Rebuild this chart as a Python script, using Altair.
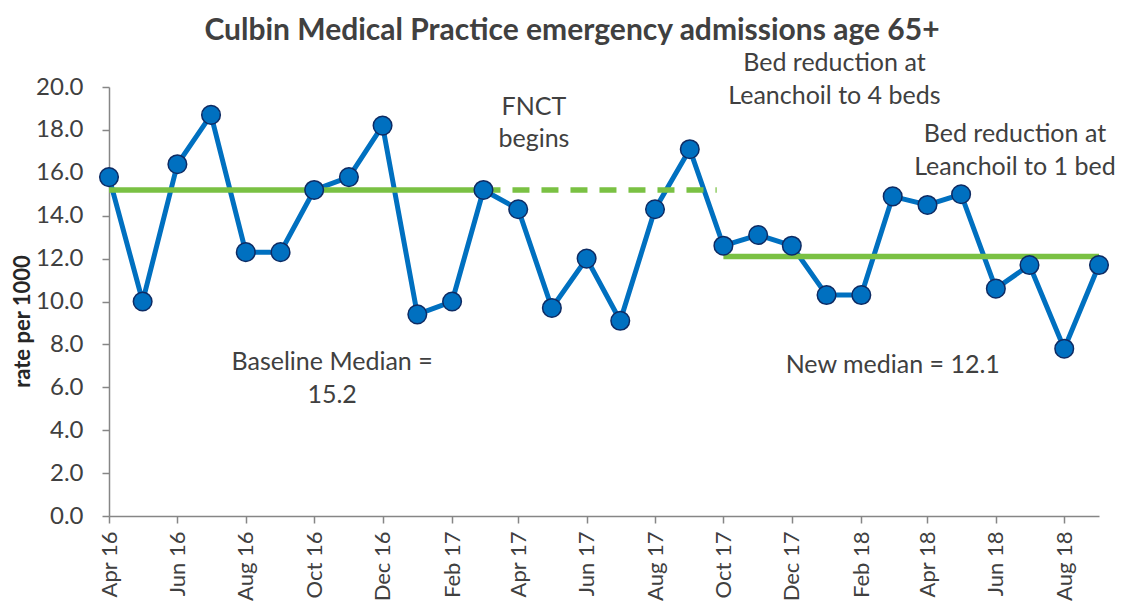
import altair as alt
import pandas as pd

# ---- data ----
months = pd.date_range("2016-04-01", "2018-09-01", freq="MS").strftime("%Y-%m-%d").tolist()
rates = [15.8, 10.0, 16.4, 18.7, 12.3, 12.3, 15.2, 15.8, 18.2, 9.4,
         10.0, 15.2, 14.3, 9.7, 12.0, 9.1, 14.3, 17.1, 12.6, 13.1,
         12.6, 10.3, 10.3, 14.9, 14.5, 15.0, 10.6, 11.7, 7.8, 11.7]

median_seg = ["baseline", "baseline", "extended", "extended", "new", "new"]
median_date = ["2016-04-01", "2017-03-01", "2017-03-01", "2017-09-25", "2017-10-01", "2018-09-01"]
median_val = [15.2, 15.2, 15.2, 15.2, 12.1, 12.1]

ann_text = ["FNCT", "begins",
            "Bed reduction at", "Leanchoil to 4 beds",
            "Bed reduction at", "Leanchoil to 1 bed",
            "Baseline Median =", "15.2",
            "New median = 12.1"]
ann_date = ["2017-04-15", "2017-04-15",
            "2018-01-08", "2018-01-08",
            "2018-06-18", "2018-06-18",
            "2016-10-17", "2016-10-17",
            "2018-03-01"]
ann_val = [19.07, 17.58, 21.12, 19.6, 17.81, 16.27, 7.18, 5.64, 7.04]

tick_dates = months[::2]

df = pd.DataFrame({"date": months, "rate": rates})
med = pd.DataFrame({"date": median_date, "value": median_val, "seg": median_seg})
ann = pd.DataFrame({"date": ann_date, "value": ann_val, "text": ann_text})

FONT = "Lato"
BLUE = "#0070C0"
GREEN = "#7AC143"
GREY = "#404040"

xscale = alt.Scale(type="utc", domain=[alt.DateTime(year=2016, month=4, date=1, utc=True),
                                       alt.DateTime(year=2018, month=9, date=1, utc=True)], nice=False)
yscale = alt.Scale(domain=[0, 20], nice=False)

xaxis = alt.Axis(
    values=[alt.DateTime(year=int(d[:4]), month=int(d[5:7]), date=1, utc=True) for d in tick_dates],
    format="%b %y", labelAngle=-90, labelFontSize=22, labelColor=GREY, labelFont=FONT,
    domainColor="#868686", tickColor="#868686", tickSize=7, domainWidth=1.5, tickWidth=1.5,
    grid=False, title=None, labelPadding=8,
)
yaxis = alt.Axis(
    values=list(range(0, 21, 2)), format=".1f", labelFontSize=24, labelColor=GREY, labelFont=FONT,
    domainColor="#868686", tickColor="#868686", tickSize=7, domainWidth=1.5, tickWidth=1.5,
    grid=False, title="rate per 1000", titleFontSize=22, titleFont=FONT, titleColor="#262626",
    titleFontWeight="bold", labelPadding=19,
    titleX=-87, titleY=234, titleAngle=-90, titleAlign="center", titleBaseline="middle",
)

base = alt.Chart(df)
x = alt.X("date:T", scale=xscale, axis=xaxis)
y = alt.Y("rate:Q", scale=yscale, axis=yaxis)

line = base.mark_line(color=BLUE, strokeWidth=5).encode(x=x, y=y)
pts = base.mark_point(filled=True, shape="circle", size=346, fill=BLUE, stroke="#0E2B63",
                      strokeWidth=1.5, opacity=1).encode(x=x, y=y)

solid = alt.Chart(med).transform_filter("datum.seg != 'extended'").mark_line(
    color=GREEN, strokeWidth=5.5, strokeCap="butt").encode(
    x=alt.X("date:T", scale=xscale), y=alt.Y("value:Q", scale=yscale), detail="seg:N")
dashed = alt.Chart(med).transform_filter("datum.seg == 'extended'").mark_line(
    color=GREEN, strokeWidth=5.5, strokeDash=[17, 12], strokeCap="butt").encode(
    x=alt.X("date:T", scale=xscale), y=alt.Y("value:Q", scale=yscale))

texts = alt.Chart(ann).mark_text(font=FONT, fontSize=25, color=GREY, align="center",
                                 baseline="middle").encode(
    x=alt.X("date:T", scale=xscale), y=alt.Y("value:Q", scale=yscale), text="text:N")

chart = alt.layer(line, solid, dashed, pts, texts).properties(
    width=990, height=429,
    autosize=alt.AutoSizeParams(type="none"),
    padding={"left": 101, "top": 79, "right": 20, "bottom": 86},
    title=alt.TitleParams("Culbin Medical Practice emergency admissions age 65+",
                          font=FONT, fontSize=30, fontWeight="bold", color=GREY,
                          anchor="middle", dx=-32, offset=5),
).configure(background="white").configure_view(stroke=None)

chart.save("out.html", embed_options={"renderer": "svg", "actions": False})
